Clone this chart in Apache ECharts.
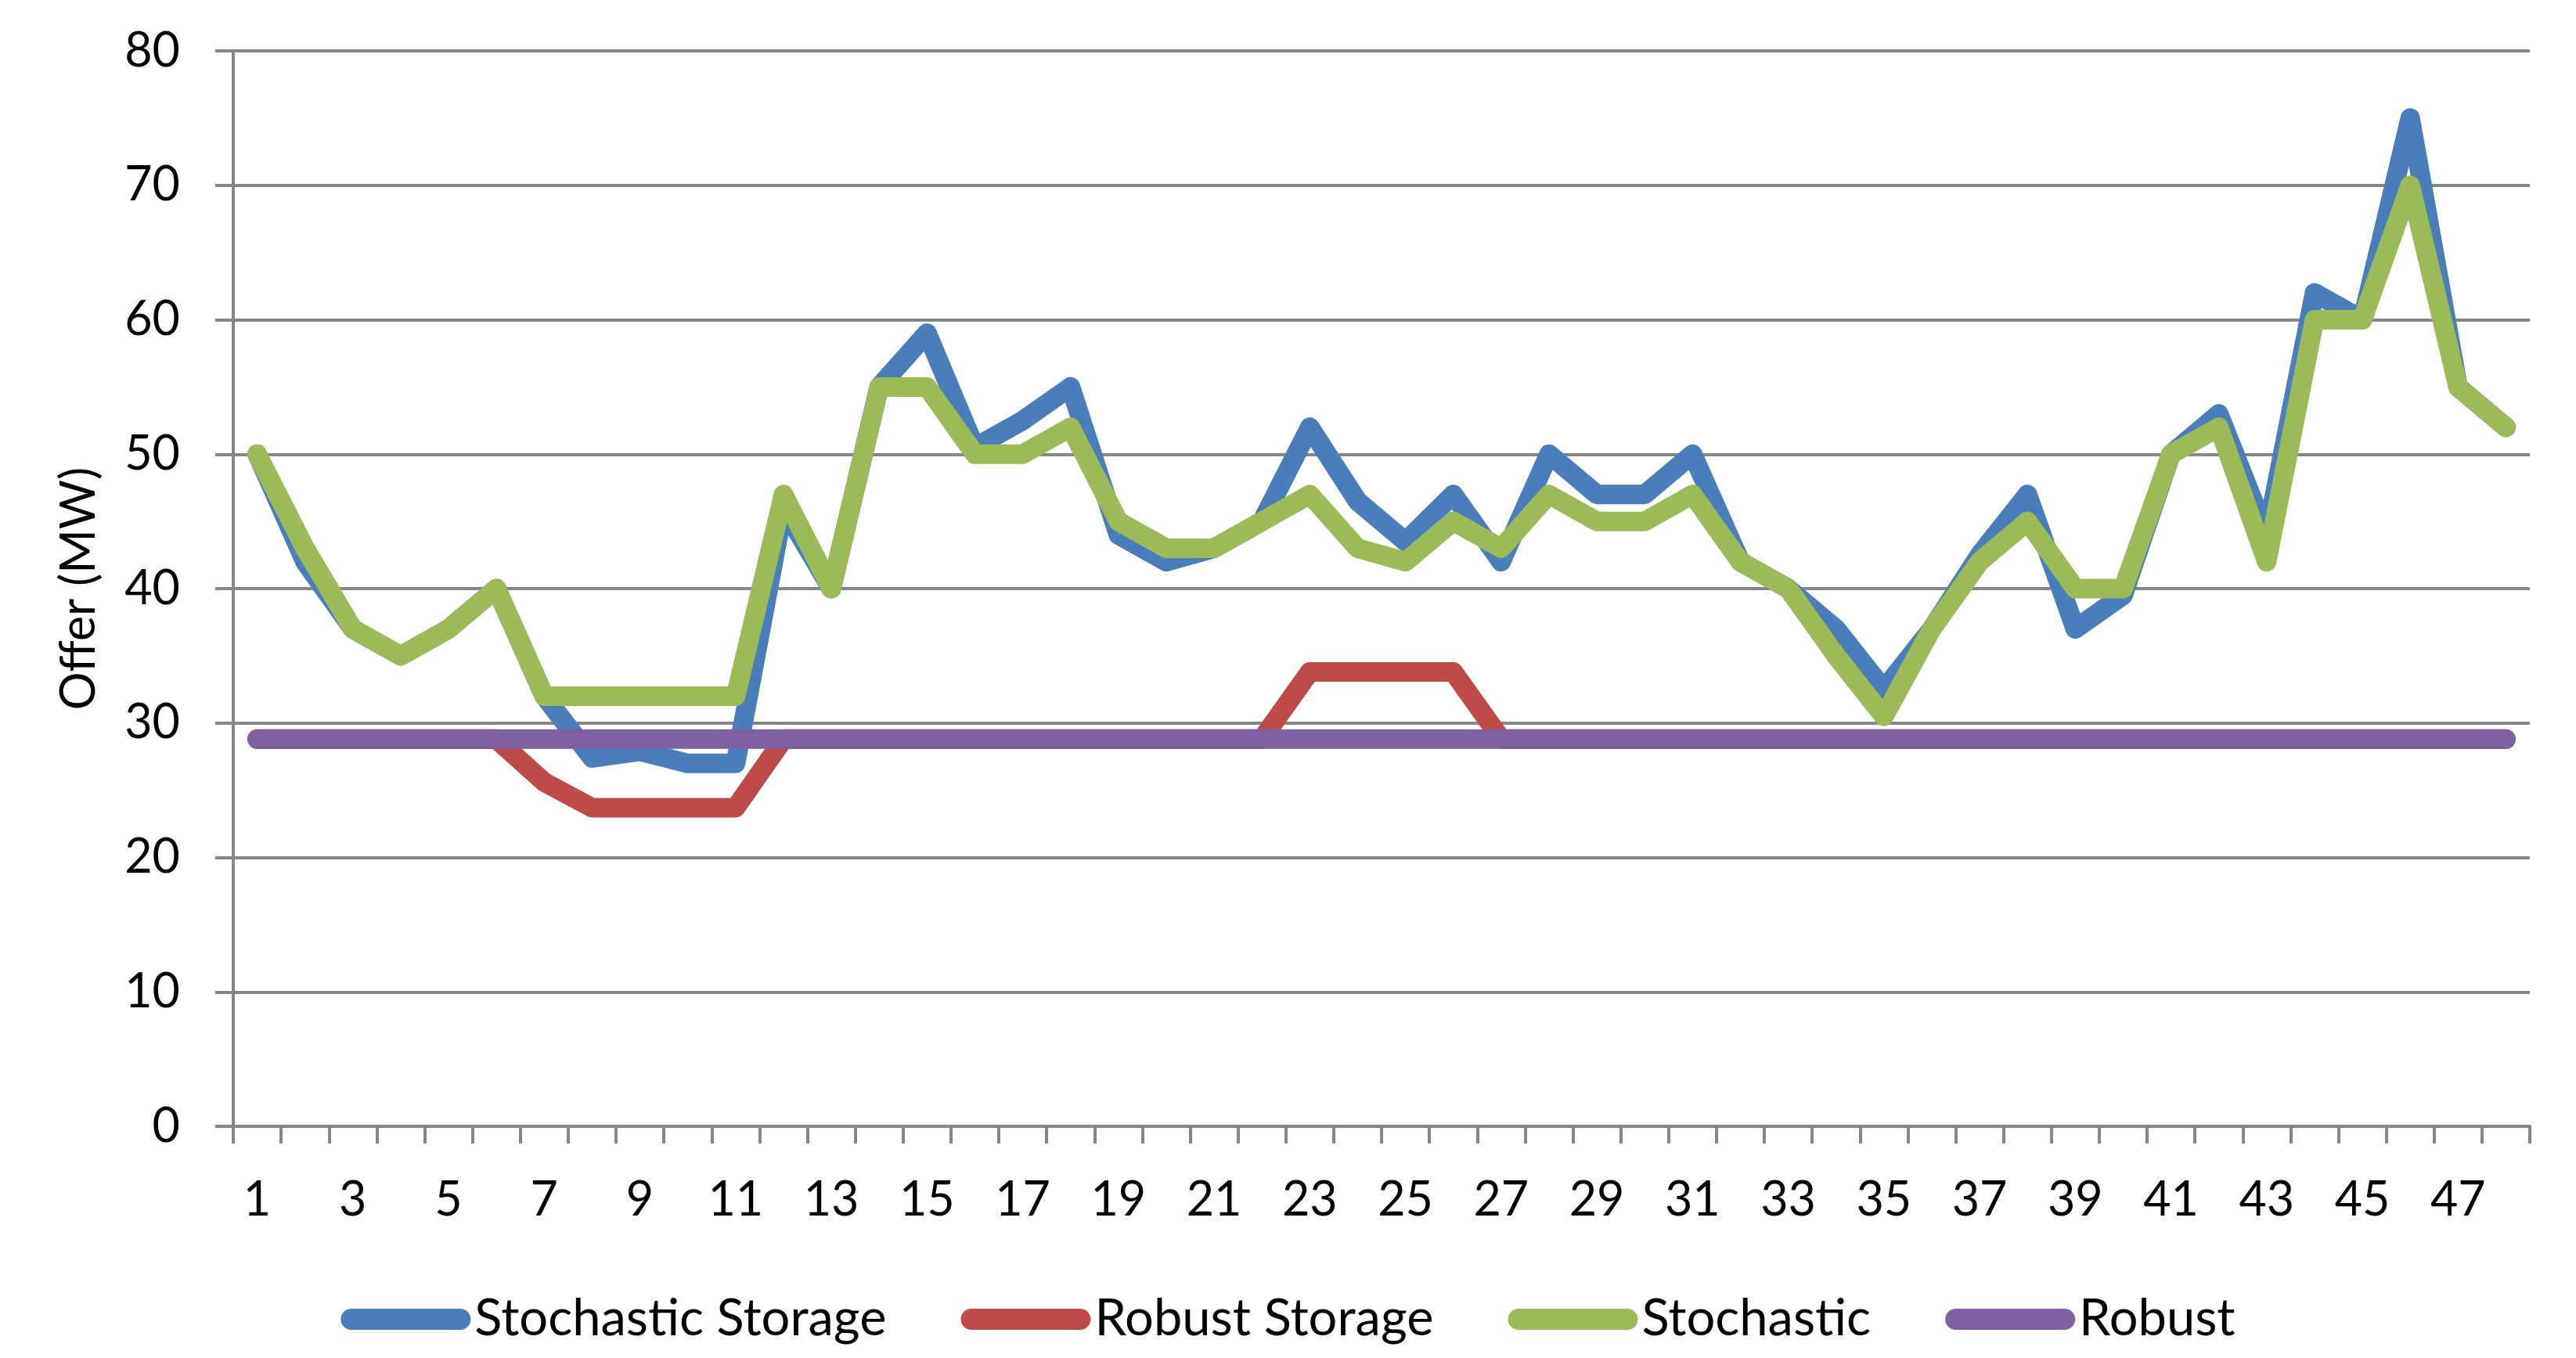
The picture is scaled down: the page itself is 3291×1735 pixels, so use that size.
<!DOCTYPE html>
<html>
<head>
<meta charset="utf-8">
<script src="https://cdn.jsdelivr.net/npm/echarts@6/dist/echarts.min.js"></script>
<style>
html,body{margin:0;padding:0;background:#fff;}
#chart{width:3291px;height:1735px;}
</style>
</head>
<body>
<div id="chart"></div>
<script>
const categories = Array.from({length: 48}, (_, i) => String(i + 1));
const stochasticStorage = [50,42,37,35,37,40,32,27.4,27.9,27,27,46,40,55,59,50.5,52.5,55,44,42,43,45,52,46.5,43.5,47,42,50,47,47,50,42,40,37,32.5,37,42.5,47,37,39.5,50,53,44,62,60,75,55,52];
const robustStorage = [28.8,28.8,28.8,28.8,28.8,28.8,25.6,23.7,23.7,23.7,23.7,28.8,28.8,28.8,28.8,28.8,28.8,28.8,28.8,28.8,28.8,28.8,33.8,33.8,33.8,33.8,28.8,28.8,28.8,28.8,28.8,28.8,28.8,28.8,28.8,28.8,28.8,28.8,28.8,28.8,28.8,28.8,28.8,28.8,28.8,28.8,28.8,28.8];
const stochastic = [50,43,37,35,37,40,32,32,32,32,32,47,40,55,55,50,50,52,45,43,43,45,47,43,42,45,43,47,45,45,47,42,40,35,30.5,37,42,45,40,40,50,52,42,60,60,70,55,52];
const robust = [28.8,28.8,28.8,28.8,28.8,28.8,28.8,28.8,28.8,28.8,28.8,28.8,28.8,28.8,28.8,28.8,28.8,28.8,28.8,28.8,28.8,28.8,28.8,28.8,28.8,28.8,28.8,28.8,28.8,28.8,28.8,28.8,28.8,28.8,28.8,28.8,28.8,28.8,28.8,28.8,28.8,28.8,28.8,28.8,28.8,28.8,28.8,28.8];
const seriesNames = ['Stochastic Storage', 'Robust Storage', 'Stochastic', 'Robust'];
const colors = ['#4A7EBB', '#BE4B48', '#9BBB59', '#7F60A0'];

const FONT = 'Lato';
const FS = 61;
const LEGEND_FS = 65;
const GRID_GREY = '#868686';

const chart = echarts.init(document.getElementById('chart'), null, {renderer: 'canvas'});
const dataSets = [stochasticStorage, robustStorage, stochastic, robust];
const legendIcon = 'path://M13.5,0 L152.5,0 A13.5,13.5 0 0 1 152.5,27 L13.5,27 A13.5,13.5 0 0 1 13.5,0 Z';

chart.setOption({
  animation: false,
  backgroundColor: '#fff',
  textStyle: {fontFamily: FONT, color: '#000'},
  grid: {left: 298, right: 59, top: 65, bottom: 296, containLabel: false},
  legend: {
    top: 1648,
    left: 'center',
    itemWidth: 166,
    itemHeight: 27,
    itemGap: 95,
    icon: legendIcon,
    textStyle: {fontFamily: FONT, fontSize: LEGEND_FS, color: '#000'},
    data: seriesNames
  },
  xAxis: {
    type: 'category',
    data: categories,
    boundaryGap: true,
    axisLine: {show: true, lineStyle: {color: GRID_GREY, width: 4}},
    axisTick: {show: true, interval: 0, length: 22, alignWithLabel: false, lineStyle: {color: GRID_GREY, width: 4}},
    axisLabel: {interval: 1, margin: 64, fontFamily: FONT, fontSize: FS, color: '#000'},
    splitLine: {show: false}
  },
  yAxis: {
    type: 'value',
    min: 0,
    max: 80,
    interval: 10,
    name: 'Offer (MW)',
    nameLocation: 'middle',
    nameGap: 166,
    nameTextStyle: {fontFamily: FONT, fontSize: FS, color: '#000'},
    axisLine: {show: true, lineStyle: {color: GRID_GREY, width: 4}},
    axisTick: {show: true, length: 23, lineStyle: {color: GRID_GREY, width: 4}},
    axisLabel: {margin: 68, fontFamily: FONT, fontSize: FS, color: '#000'},
    splitLine: {show: true, lineStyle: {color: GRID_GREY, width: 4}}
  },
  series: seriesNames.map((name, i) => ({
    name: name,
    type: 'line',
    data: dataSets[i],
    showSymbol: false,
    symbol: 'none',
    color: colors[i],
    lineStyle: {color: colors[i], width: 25, cap: 'round', join: 'round'},
    z: 2 + i
  }))
});
</script>
</body>
</html>
